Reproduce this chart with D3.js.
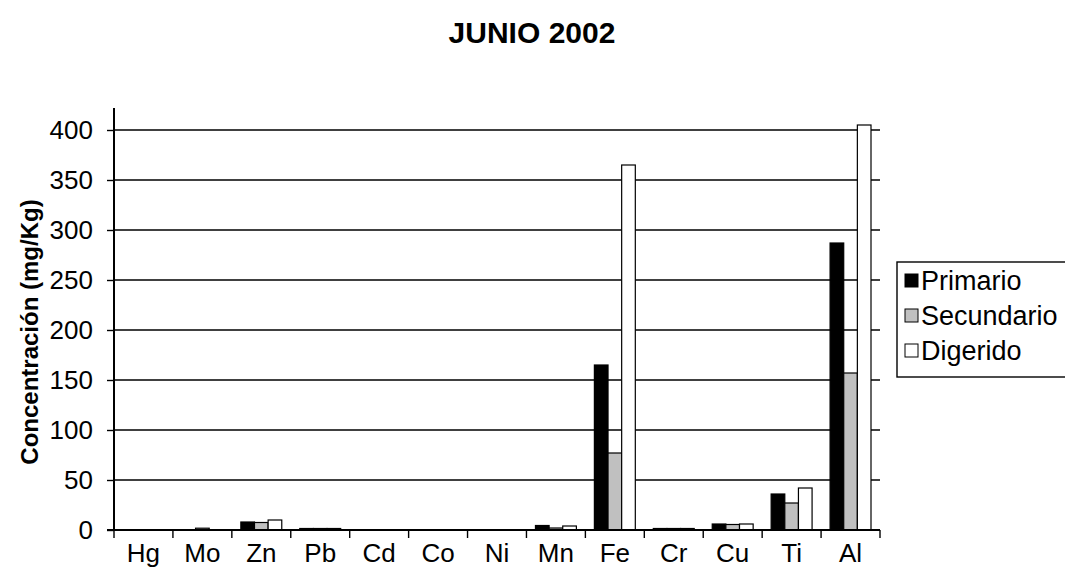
<!DOCTYPE html>
<html>
<head>
<meta charset="utf-8">
<script src="https://cdn.jsdelivr.net/npm/d3@7"></script>
<style>
  body { margin: 0; background: #fff; }
  svg { display: block; font-family: "Liberation Sans", Arial, sans-serif; }
</style>
</head>
<body>
<div id="chart"></div>
<script>
// Elements measured in sample, June 2002
const elements = ["Hg", "Mo", "Zn", "Pb", "Cd", "Co", "Ni", "Mn", "Fe", "Cr", "Cu", "Ti", "Al"];
const seriesNames = ["Primario", "Secundario", "Digerido"];
const primario   = [0, 0.3, 8, 1.5, 0, 0, 0, 4.5, 165, 1.5, 6, 36, 287];
const secundario = [0, 1.8, 7.5, 1.5, 0, 0, 0, 2, 77, 1.5, 5.5, 27, 157];
const digerido   = [0, 0.3, 10, 1.5, 0, 0, 0, 4, 365, 1.5, 6, 42, 405];
const yTicks = [0, 50, 100, 150, 200, 250, 300, 350, 400];
const seriesColors = { Primario: "#000000", Secundario: "#c0c0c0", Digerido: "#ffffff" };

const width = 1065, height = 586;
const plot = { left: 114, right: 880, top: 108, bottom: 530 };

const svg = d3.select("#chart").append("svg")
  .attr("width", width)
  .attr("height", height);

const x = d3.scaleBand().domain(elements).range([plot.left, plot.right]);
const xInner = d3.scaleBand().domain(seriesNames).range([9, x.bandwidth() - 9]);
const y = d3.scaleLinear().domain([0, 422]).range([plot.bottom, plot.top]);

const rows = elements.map((el, i) => ({
  element: el,
  values: [
    { series: "Primario", value: primario[i] },
    { series: "Secundario", value: secundario[i] },
    { series: "Digerido", value: digerido[i] },
  ],
}));

// title
svg.append("text")
  .attr("x", 532).attr("y", 43)
  .attr("text-anchor", "middle")
  .attr("font-size", 30).attr("font-weight", "bold")
  .text("JUNIO 2002");

// gridlines
svg.append("g")
  .selectAll("line")
  .data(yTicks.filter((t) => t > 0))
  .join("line")
  .attr("x1", plot.left).attr("x2", plot.right)
  .attr("y1", (d) => y(d)).attr("y2", (d) => y(d))
  .attr("stroke", "#000").attr("stroke-width", 1.4);

// bars
const groups = svg.append("g")
  .selectAll("g")
  .data(rows)
  .join("g")
  .attr("transform", (d) => `translate(${x(d.element)},0)`);

groups.selectAll("rect")
  .data((d) => d.values.filter((v) => v.value > 0))
  .join("rect")
  .attr("x", (d) => xInner(d.series))
  .attr("width", xInner.bandwidth())
  .attr("y", (d) => y(d.value))
  .attr("height", (d) => y(0) - y(d.value))
  .attr("fill", (d) => seriesColors[d.series])
  .attr("stroke", "#000").attr("stroke-width", 1.2);

// y axis
const yAxis = svg.append("g")
  .attr("transform", `translate(${plot.left},0)`)
  .call(d3.axisLeft(y).tickValues(yTicks).tickSize(7).tickPadding(14));
yAxis.select(".domain").attr("d", `M0,${plot.top}V${plot.bottom}`).attr("stroke-width", 2);
yAxis.selectAll(".tick line").attr("stroke-width", 1.4);
yAxis.selectAll(".tick text")
  .attr("font-size", 26).attr("fill", "#000")
  .attr("font-family", "Liberation Sans, Arial, sans-serif");

// x axis
const xAxis = svg.append("g").attr("transform", `translate(0,${plot.bottom})`);
xAxis.append("line")
  .attr("x1", plot.left - 7).attr("x2", plot.right)
  .attr("stroke", "#000").attr("stroke-width", 2);
xAxis.selectAll("line.sep")
  .data(elements.concat(["__end"]))
  .join("line")
  .attr("class", "sep")
  .attr("x1", (d, i) => plot.left + i * x.bandwidth())
  .attr("x2", (d, i) => plot.left + i * x.bandwidth())
  .attr("y1", 0).attr("y2", 8)
  .attr("stroke", "#000").attr("stroke-width", 1.4);
xAxis.selectAll("text")
  .data(elements)
  .join("text")
  .attr("x", (d) => x(d) + x.bandwidth() / 2)
  .attr("y", 32)
  .attr("text-anchor", "middle")
  .attr("font-size", 26)
  .text((d) => d);

// y axis title
svg.append("text")
  .attr("transform", `translate(38,332) rotate(-90)`)
  .attr("text-anchor", "middle")
  .attr("font-size", 24).attr("font-weight", "bold")
  .text("Concentración (mg/Kg)");

// legend
const legend = svg.append("g").attr("transform", "translate(897,262)");
legend.append("rect")
  .attr("x", 0).attr("y", 0).attr("width", 180).attr("height", 115)
  .attr("fill", "#fff").attr("stroke", "#000").attr("stroke-width", 1.4);
const item = legend.selectAll("g.item")
  .data(seriesNames)
  .join("g")
  .attr("class", "item")
  .attr("transform", (d, i) => `translate(0,${22 + i * 35})`);
item.append("rect")
  .attr("x", 8).attr("y", -10).attr("width", 13).attr("height", 13)
  .attr("fill", (d) => seriesColors[d])
  .attr("stroke", "#000").attr("stroke-width", 1);
item.append("text")
  .attr("x", 24).attr("y", 6)
  .attr("font-size", 27)
  .text((d) => d);
</script>
</body>
</html>
